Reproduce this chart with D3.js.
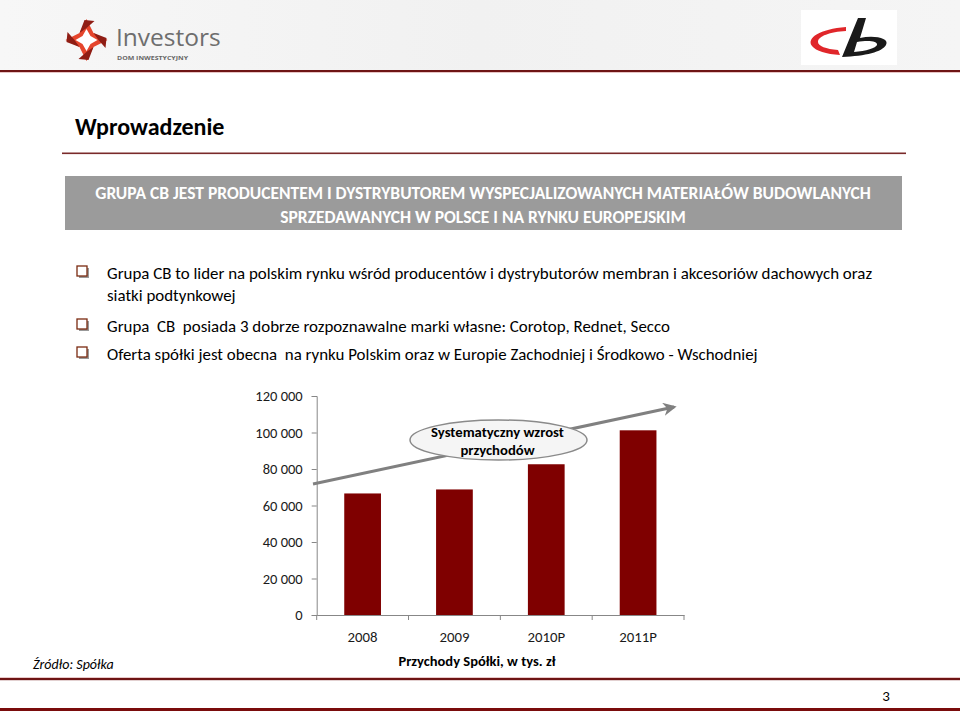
<!DOCTYPE html>
<html><head><meta charset="utf-8">
<script src="https://cdn.jsdelivr.net/npm/d3@7"></script>
<style>
html,body{margin:0;padding:0;background:#fff;}
svg{display:block;}
text{font-family:Carlito,Calibri,"Liberation Sans Narrow","Open Sans",sans-serif;}
</style></head>
<body>
<svg id="c" width="960" height="711"></svg>
<script>
const categories = ["2008", "2009", "2010P", "2011P"];
const revenues = [66600, 68800, 82600, 101200];
const yTicks = [0, 20000, 40000, 60000, 80000, 100000, 120000];
const pageTitle = "Wprowadzenie";
const bannerLines = ["GRUPA CB JEST PRODUCENTEM I DYSTRYBUTOREM WYSPECJALIZOWANYCH MATERIAŁÓW BUDOWLANYCH",
                     "SPRZEDAWANYCH W POLSCE I NA RYNKU EUROPEJSKIM"];
const bullets = [
  ["Grupa CB to lider na polskim rynku wśród producentów i dystrybutorów membran i akcesoriów dachowych oraz", "siatki podtynkowej"],
  ["Grupa  CB  posiada 3 dobrze rozpoznawalne marki własne: Corotop, Rednet, Secco"],
  ["Oferta spółki jest obecna  na rynku Polskim oraz w Europie Zachodniej i Środkowo - Wschodniej"]
];
const calloutLines = ["Systematyczny wzrost", "przychodów"];
const chartTitle = "Przychody Spółki, w tys. zł";
const sourceNote = "Źródło: Spółka";
const pageNumber = "3";
const FONT = "Carlito,Calibri,'Liberation Sans Narrow','Open Sans',sans-serif";

const svg = d3.select("#c");
const defs = svg.append("defs");

// header background
const hg = defs.append("linearGradient").attr("id","hg").attr("x1","0").attr("x2","1");
hg.append("stop").attr("offset","0").attr("stop-color","#f7f7f7");
hg.append("stop").attr("offset","0.5").attr("stop-color","#f1f1f1");
hg.append("stop").attr("offset","1").attr("stop-color","#f5f5f5");
svg.append("rect").attr("x",0).attr("y",0).attr("width",960).attr("height",71).attr("fill","url(#hg)");
svg.append("rect").attr("x",0).attr("y",70).attr("width",960).attr("height",2).attr("fill","#6e1414");
svg.append("rect").attr("x",0).attr("y",72).attr("width",960).attr("height",1).attr("fill","#e7c4c4");

// Investors logo
const lg = svg.append("g").attr("transform","translate(86.5,40)");
lg.append("path").attr("d","M0,-21 L7,-7 L21,0 L7,7 L0,21 L-7,7 L-21,0 L-7,-7 Z").attr("fill","#e5452c");
lg.append("path").attr("d","M-7,-7 L-2,-20 L8,-19 L0,-12 Z M7,-7 L20,-2 L19,8 L12,0 Z M7,7 L2,20 L-8,19 L0,12 Z M-7,7 L-20,2 L-19,-8 L-12,0 Z").attr("fill","#8f1d14");
lg.append("path").attr("d","M0,-11 L4,-4 L11,0 L4,4 L0,11 L-4,4 L-11,0 L-4,-4 Z").attr("fill","#fff");
svg.append("text").attr("x",116).attr("y",46).attr("font-size",24.5).attr("fill","#6e6e6e").style("font-family","'Open Sans',sans-serif").text("Investors");
svg.append("text").attr("x",117).attr("y",60).attr("font-size",5.8).attr("fill","#666").attr("font-weight","bold")
  .attr("textLength",71).attr("lengthAdjust","spacingAndGlyphs").style("font-family","'Open Sans',sans-serif").text("DOM INWESTYCYJNY");

// CB logo
svg.append("rect").attr("x",801).attr("y",10).attr("width",96).attr("height",55).attr("fill","#fff");
svg.append("path").attr("d","M846,27 C820,29 806,38 812,46 C816,51 826,54 840,55 L838,50 C826,49 818,46 818,42 C818,36 830,32 846,31 Z").attr("fill","#e0262a");
svg.append("path").attr("d","M858,18 L866,18 L860,38 C874,35 890,38 886,45 C882,52 866,56 842,57 Z M857,42 L854,52 C866,51 876,48 877,45 C878,41 868,40 857,42 Z").attr("fill","#1a1a1a");

// title
svg.append("text").attr("x",75).attr("y",135).attr("font-size",24).attr("font-weight","bold").attr("fill","#000").text(pageTitle);
svg.append("rect").attr("x",62).attr("y",152.5).attr("width",844).attr("height",1.6).attr("fill","#7a2a2a");

// banner
svg.append("rect").attr("x",65).attr("y",176).attr("width",837).attr("height",54).attr("fill","#9b9b9b");
svg.selectAll("text.ban").data(bannerLines).join("text").attr("class","ban")
  .attr("x",483).attr("y",(d,i)=>198.5+i*24).attr("text-anchor","middle")
  .attr("font-size",17.5).attr("font-weight","bold").attr("fill","#fff").text(d=>d);

// bullets
const bulletY = [273, 326, 354];
bullets.forEach((lines,i)=>{
  const y = bulletY[i];
  svg.append("rect").attr("x",79).attr("y",y-5).attr("width",10).attr("height",10).attr("fill","#999");
  svg.append("rect").attr("x",77).attr("y",y-7).attr("width",10).attr("height",10).attr("fill","#fff").attr("stroke","#7a2a10").attr("stroke-width",1.3);
  lines.forEach((t,j)=>{
    svg.append("text").attr("x",107).attr("y",y+6+j*22).attr("font-size",16.9).attr("fill","#000").style("white-space","pre").text(t);
  });
});

// chart
const x = d3.scaleBand().domain(categories).range([316.7,684]).paddingInner(0.6).paddingOuter(0.3);
const y = d3.scaleLinear().domain([0,120000]).range([615,396]);
const fmt = v => d3.format(",")(v).replace(/,/g," ");

const yAx = svg.append("g").attr("transform","translate(316.7,0)")
  .call(d3.axisLeft(y).tickValues(yTicks).tickSize(5).tickPadding(9).tickFormat(fmt));
yAx.select(".domain").attr("stroke","#878787");
yAx.selectAll(".tick line").attr("stroke","#878787");
yAx.selectAll(".tick text").attr("font-size",14.5).attr("fill","#1a1a1a").style("font-family",FONT);

svg.selectAll("rect.bar").data(categories).join("rect").attr("class","bar")
  .attr("x",d=>x(d)).attr("width",x.bandwidth())
  .attr("y",(d,i)=>y(revenues[i])).attr("height",(d,i)=>y(0)-y(revenues[i]))
  .attr("fill","#7f0000");

const xAx = svg.append("g").attr("transform","translate(0,615)")
  .call(d3.axisBottom(x).tickSize(0).tickPadding(16));
xAx.select(".domain").attr("stroke","#878787");
xAx.selectAll(".tick text").attr("font-size",14.8).attr("fill","#1a1a1a").style("font-family",FONT);
const bounds = categories.map(c=>x(c)-x.step()*x.paddingInner()/2).concat([x(categories[3])+x.bandwidth()+x.step()*x.paddingInner()/2]);
svg.selectAll("line.bt").data(bounds).join("line").attr("class","bt")
  .attr("x1",d=>d).attr("x2",d=>d).attr("y1",615).attr("y2",620).attr("stroke","#878787");

// trend arrow
defs.append("marker").attr("id","ah").attr("viewBox","0 0 10 10").attr("refX",8).attr("refY",5)
  .attr("markerWidth",4.5).attr("markerHeight",4.5).attr("orient","auto")
  .append("path").attr("d","M0,0 L10,5 L0,10 L3,5 Z").attr("fill","#808080");
svg.append("line").attr("x1",313).attr("y1",484).attr("x2",674).attr("y2",407)
  .attr("stroke","#808080").attr("stroke-width",3).attr("marker-end","url(#ah)");

// callout
svg.append("ellipse").attr("cx",498.5).attr("cy",440).attr("rx",88.5).attr("ry",20)
  .attr("fill","#f5f5f5").attr("stroke","#8a8a8a").attr("stroke-width",1.5);
svg.selectAll("text.co").data(calloutLines).join("text").attr("class","co")
  .attr("x",497.5).attr("y",(d,i)=>437+i*18).attr("text-anchor","middle")
  .attr("font-size",14.7).attr("font-weight","bold").attr("fill","#000").text(d=>d);

svg.append("text").attr("x",477).attr("y",666).attr("text-anchor","middle").attr("font-size",14.5).attr("font-weight","bold").attr("fill","#000").text(chartTitle);
svg.append("text").attr("x",33).attr("y",669).attr("font-size",14).attr("font-style","italic").attr("fill","#000").text(sourceNote);

// footer
svg.append("rect").attr("x",0).attr("y",678).attr("width",960).attr("height",2.2).attr("fill","#6e1414");
svg.append("rect").attr("x",0).attr("y",677).attr("width",960).attr("height",1).attr("fill","#e9c9c9");
svg.append("text").attr("x",886).attr("y",701).attr("text-anchor","middle").attr("font-size",15).attr("fill","#000").text(pageNumber);
svg.append("rect").attr("x",0).attr("y",708).attr("width",960).attr("height",3).attr("fill","#7a0c0c");
</script>
</body></html>
